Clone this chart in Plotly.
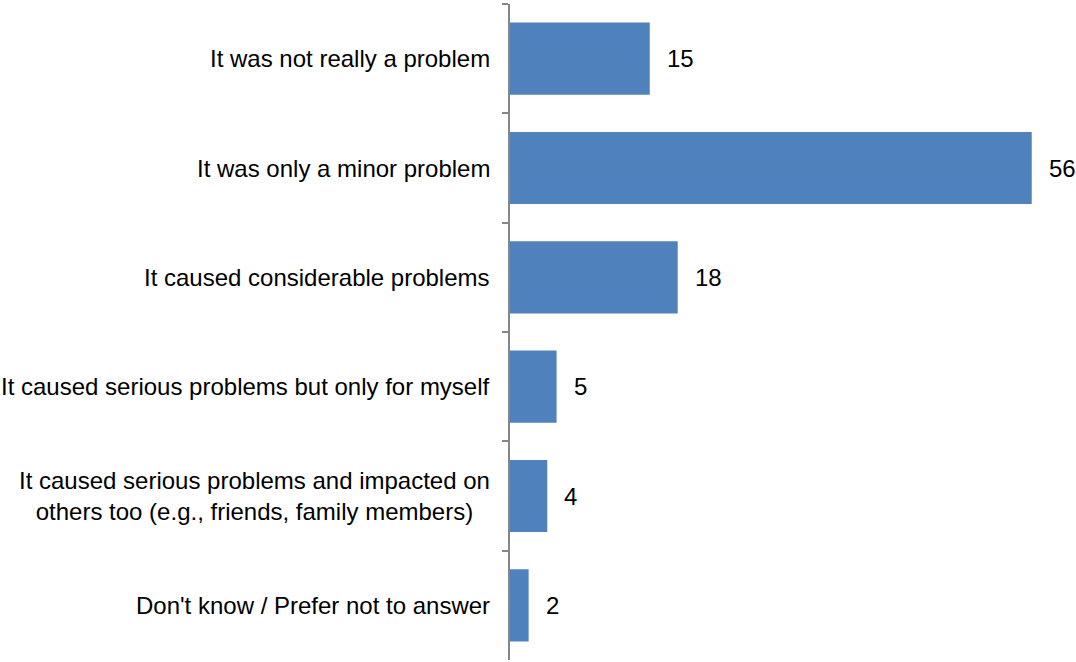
import plotly.graph_objects as go

categories = [
    "It was not really a problem",
    "It was only a minor problem",
    "It caused considerable problems",
    "It caused serious problems but only for myself",
    "It caused serious problems and impacted on<br>others too (e.g., friends, family members)",
    "Don't know / Prefer not to answer",
]
values = [15, 56, 18, 5, 4, 2]

BAR_COLOR = "#4F81BD"
AXIS_COLOR = "#868686"
FONT = "Liberation Sans, Arial, sans-serif"

fig = go.Figure(
    go.Bar(
        x=values,
        y=categories,
        orientation="h",
        marker=dict(color=BAR_COLOR, line=dict(width=0)),
        hoverinfo="skip",
    )
)

annotations = []
# category labels, centred multi-line text right-aligned against the axis
for cat in categories:
    annotations.append(dict(
        x=0, xref="paper", y=cat, yref="y",
        text=cat, showarrow=False, xanchor="right", yanchor="middle",
        align="center", xshift=-18,
        font=dict(family=FONT, size=24, color="#000000"),
    ))
# value labels beside each bar
for cat, v in zip(categories, values):
    annotations.append(dict(
        x=v, xref="x", y=cat, yref="y",
        text=str(v), showarrow=False, xanchor="left", yanchor="middle",
        xshift=15,
        font=dict(family=FONT, size=24, color="#000000"),
    ))

fig.update_layout(
    width=1076, height=662,
    margin=dict(l=510, r=7, t=4, b=2),
    paper_bgcolor="white", plot_bgcolor="white",
    bargap=0.34,
    showlegend=False,
    annotations=annotations,
    xaxis=dict(range=[0, 60], visible=False, fixedrange=True),
    yaxis=dict(
        autorange="reversed",
        showticklabels=False,
        showline=True, linecolor=AXIS_COLOR, linewidth=2,
        ticks="outside", tickson="boundaries", ticklen=6,
        tickcolor=AXIS_COLOR, tickwidth=2,
        showgrid=False, zeroline=False,
    ),
)

fig.write_html("out.html")
